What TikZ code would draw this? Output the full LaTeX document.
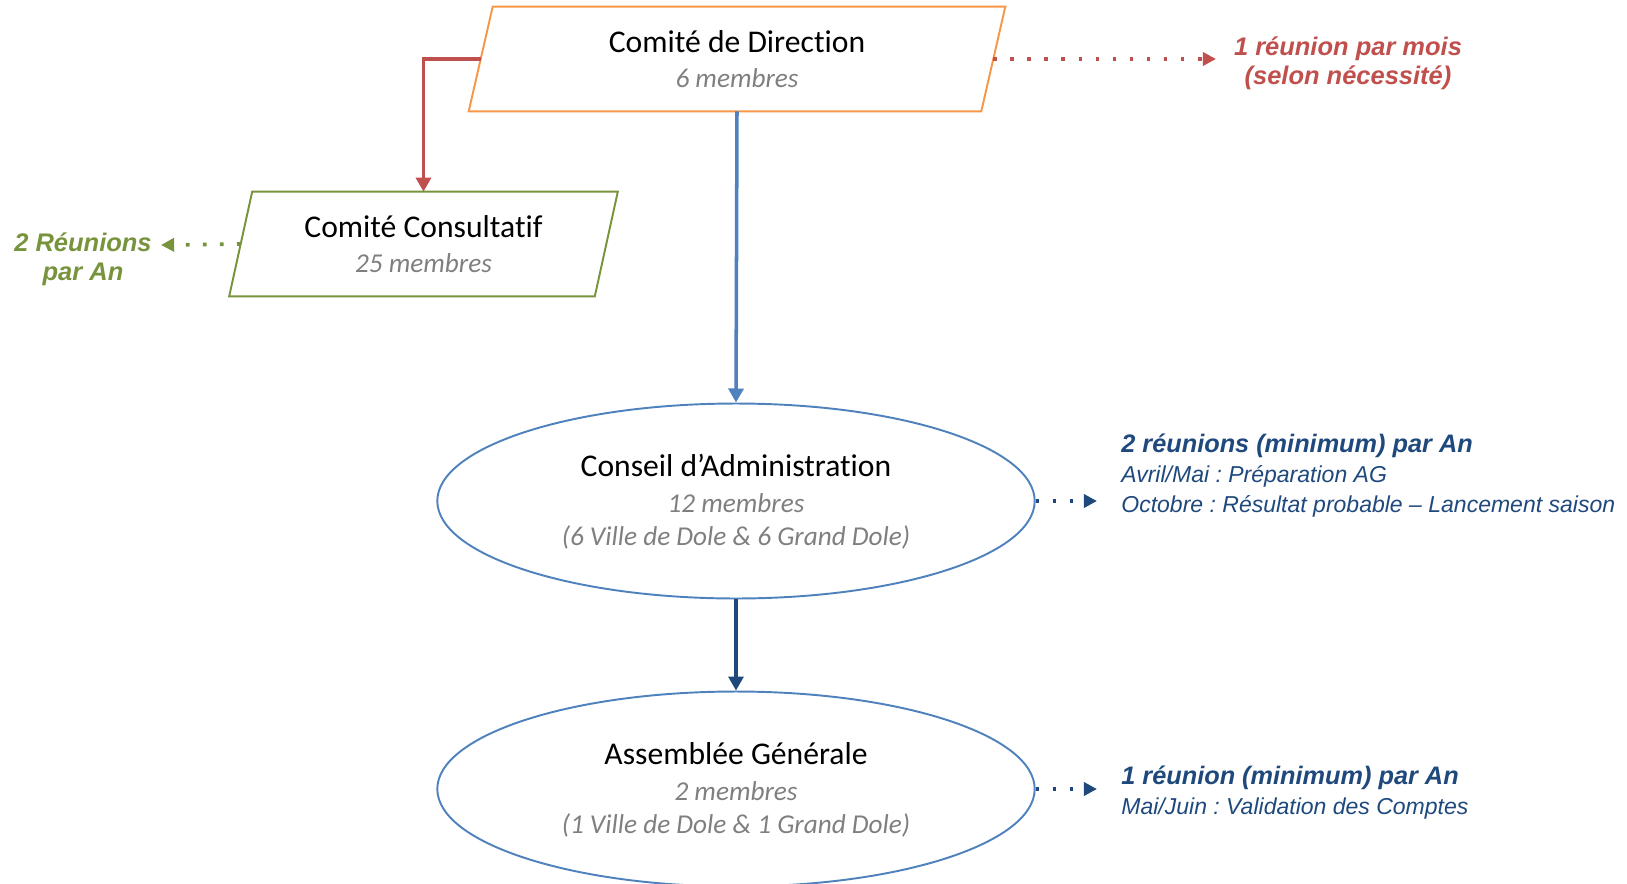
\documentclass[tikz,border=0pt]{standalone}
\usepackage{fontspec}
\setmainfont[Ligatures=NoCommon]{Carlito}
\newfontfamily\arialfont{Liberation Sans}
\usetikzlibrary{shapes.geometric,arrows.meta}
\definecolor{dirorange}{HTML}{F79646}
\definecolor{ccgreen}{HTML}{77933C}
\definecolor{rougelien}{HTML}{C0504D}
\definecolor{bleulien}{HTML}{4F81BD}
\definecolor{bleufonce}{HTML}{1F497D}
\definecolor{grismembres}{HTML}{7F7F7F}
\frenchspacing
\begin{document}
\begin{tikzpicture}[x=0.02cm,y=-0.02cm,
    parabox/.style={minimum height=2.08cm, align=center, inner sep=0pt,
        font=\fontsize{15.5}{18.7}\selectfont},
    ellbox/.style={ellipse, draw=bleulien, line width=1.1pt, minimum width=11.95cm,
        minimum height=3.9cm, align=center, inner sep=0pt,
        font=\fontsize{15.5}{18.7}\selectfont},
    pointille/.style={line width=2.1pt, dash pattern=on 2.1pt off 7.6pt,
        -{Triangle[length=7.5pt,width=7.5pt]}},
    etiquette/.style={font=\arialfont\bfseries\itshape\fontsize{14.5}{16.5}\selectfont,
        align=center, inner sep=0pt}]
    \useasboundingbox (0,0) rectangle (1627,883);
    \clip (0,0) rectangle (1627,883);
    \def\titre#1{{\fontsize{18}{20}\selectfont #1}}
    \def\membres#1{{\color{grismembres}\itshape #1}}

    % les instances
    \node[parabox, minimum width=10.24cm] (dir) at (737,59)
        {\titre{Comité de Direction}\\[1.1pt] \membres{6 membres}};
    \node[parabox, minimum width=7.3cm] (cc) at (423.5,244)
        {\titre{Comité Consultatif}\\[1.1pt] \membres{25 membres}};
    \foreach \boite/\couleur/\decal in {dir/dirorange/0.24cm, cc/ccgreen/0.23cm} {
        \draw[\couleur, line width=1.1pt] ([xshift=\decal]\boite.north west)
            -- ([xshift=\decal]\boite.north east) -- ([xshift=-\decal]\boite.south east)
            -- ([xshift=-\decal]\boite.south west) -- cycle;
    }
    \node[ellbox] (ca) at (736,501)
        {\titre{Conseil d’Administration}\\[1.7pt]
         \membres{12 membres}\\ \membres{(6 Ville de Dole \& 6 Grand Dole)}\\[-17.7pt]};
    \node[ellbox] (ag) at (736,789)
        {\titre{Assemblée Générale}\\[1.7pt]
         \membres{2 membres}\\ \membres{(1 Ville de Dole \& 1 Grand Dole)}\\[-17.7pt]};

    % les liens
    \draw[rougelien, line width=2.2pt, -{Triangle[length=8pt,width=8.5pt]}] (dir.west) -| (cc.north);
    \draw[bleulien, line width=2pt, -{Triangle[length=8pt,width=8.5pt]}] (dir.south) -- (ca.north);
    \draw[bleufonce, line width=2.6pt, -{Triangle[length=8pt,width=8.5pt]}] (ca.south) -- (ag.north);

    % les frequences
    \coordinate (dirfin) at (1216,59);
    \coordinate (ccfin) at (161,245);
    \coordinate (cafin) at (1097,501);
    \coordinate (agfin) at (1097,789);
    \draw[pointille, rougelien] (dir.east) -- (dirfin);
    \draw[pointille, ccgreen] (cc.west) -- (ccfin);
    \foreach \inst in {ca,ag} {
        \draw[pointille, bleufonce] (\inst.east) -- (\inst fin);
    }
    \node[etiquette, text=rougelien] (dirfreq) at (1348,63) {1 réunion par mois\\(selon nécessité)};
    \node[etiquette, text=ccgreen] (ccfreq) at (83,259) {2 Réunions\\par An};
    \node[etiquette, text=bleufonce, anchor=north west, align=left,
        font=\arialfont\itshape\fontsize{13.1}{17}\selectfont] (cafreq) at (1121,434)
        {{\bfseries\fontsize{14.4}{16}\selectfont 2 réunions (minimum) par An}\\
         Avril/Mai : Préparation AG\\ Octobre : Résultat probable – Lancement saison};
    \node[etiquette, text=bleufonce, anchor=north west, align=left,
        font=\arialfont\itshape\fontsize{13.1}{17}\selectfont] (agfreq) at (1121,766)
        {{\bfseries\fontsize{14.4}{16}\selectfont 1 réunion (minimum) par An}\\
         Mai/Juin : Validation des Comptes};
\end{tikzpicture}
\end{document}
